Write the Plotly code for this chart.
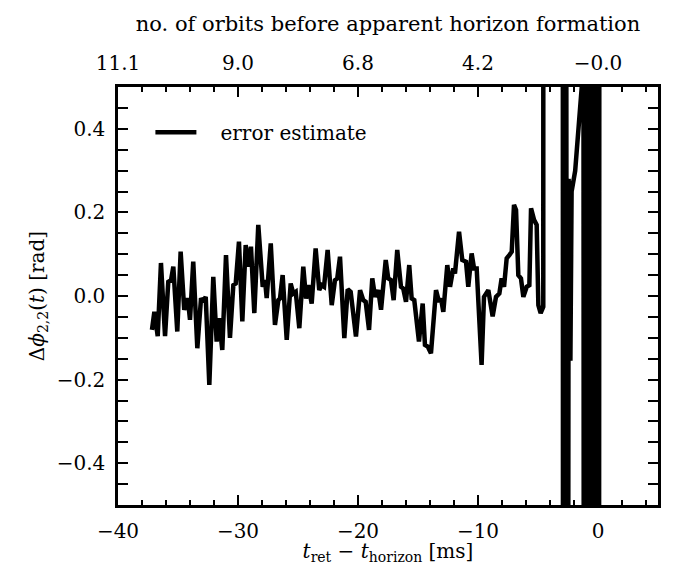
import plotly.graph_objects as go

# retarded time relative to horizon formation [ms]
t_ret = [
    -37.17, -36.97, -36.69, -36.42, -36.08, -35.81, -35.58, -35.39, -35.06, -34.78,
    -34.48, -34.19, -34.00, -33.73, -33.39, -33.08, -32.89, -32.69, -32.39, -32.06,
    -31.78, -31.58, -31.31, -31.00, -30.67, -30.39, -30.19, -29.92, -29.64, -29.36,
    -29.14, -28.92, -28.64, -28.31, -27.94, -27.75, -27.61, -27.27, -26.92, -26.64,
    -26.50, -26.28, -25.94, -25.61, -25.39, -25.19, -24.89, -24.56, -24.33, -24.14,
    -23.86, -23.53, -23.23, -23.03, -22.83, -22.53, -22.19, -21.92, -21.73, -21.50,
    -21.14, -20.86, -20.61, -20.17, -19.83, -19.56, -19.36, -19.08, -18.81, -18.58,
    -18.31, -18.08, -17.69, -17.48, -17.25, -17.03, -16.73, -16.42, -16.23, -16.00,
    -15.73, -15.53, -15.31, -15.11, -14.92, -14.61, -14.42, -14.19, -13.92, -13.50,
    -13.25, -13.08, -12.89, -12.56, -12.33, -12.06, -11.92, -11.58, -11.31, -11.00,
    -10.81, -10.53, -10.33, -10.11, -9.70, -9.50, -9.14, -8.78, -8.50, -8.22,
    -8.03, -7.83, -7.61, -7.39, -7.19, -7.00, -6.83, -6.64, -6.42, -6.22,
    -5.94, -5.72, -5.58, -5.33, -5.11, -4.97, -4.78, -4.56, -4.55, -2.95,
    -2.90, -2.70, -2.55, -2.45, -2.35, -2.30, -2.20, -1.90, -1.60, -1.30,
    -1.25, -1.15, -1.05, -0.95, -0.85, -0.75, -0.65, -0.55, -0.45, -0.35,
    -0.25, -0.15, -0.05, 0.05, 0.15,
]

# phase error estimate [rad]
dphi = [
    -0.081, -0.038, -0.096, 0.079, -0.096, 0.034, 0.038, 0.070, -0.085, 0.106,
    -0.033, -0.005, -0.057, 0.082, -0.125, -0.005, -0.014, -0.002, -0.213, 0.046,
    -0.109, -0.053, -0.129, 0.098, -0.100, 0.026, 0.030, 0.130, -0.061, 0.122,
    0.070, 0.118, -0.041, 0.170, 0.022, 0.038, -0.005, 0.126, -0.069, -0.010,
    -0.006, 0.050, -0.105, 0.030, 0.006, 0.010, -0.077, 0.070, -0.006, 0.026,
    -0.018, 0.114, 0.014, 0.026, 0.022, 0.110, -0.022, 0.038, 0.042, 0.094,
    -0.101, 0.016, 0.010, -0.097, 0.014, -0.010, -0.014, -0.081, 0.042, -0.002,
    0.014, -0.033, 0.086, 0.042, 0.038, -0.010, 0.110, 0.022, 0.018, -0.014,
    0.074, -0.006, -0.010, -0.069, -0.109, -0.018, -0.117, -0.121, -0.137, 0.014,
    -0.014, -0.006, -0.038, 0.074, 0.022, 0.066, 0.054, 0.154, 0.086, 0.082,
    0.022, 0.102, 0.066, 0.066, -0.165, -0.002, 0.014, -0.049, -0.002, 0.006,
    0.042, 0.022, 0.090, 0.098, 0.106, 0.218, 0.206, 0.050, 0.042, -0.002,
    0.022, 0.026, 0.210, 0.182, 0.170, -0.022, -0.041, -0.026, 3.0, 3.0,
    -3.0, 3.0, -3.0, 0.28, 0.22, -0.155, 0.25, 0.30, 0.40, 0.52,
    3.0, -3.0, 3.0, -3.0, 3.0, -3.0, 3.0, -3.0, 3.0, -3.0,
    3.0, -3.0, 3.0, -3.0, 3.0,
]

# top axis: orbits remaining at selected times
orbit_tick_times = [-40, -30, -20, -10, 0]
orbit_tick_labels = ["11.1", "9.0", "6.8", "4.2", "\u22120.0"]

FONT = "DejaVu Serif"

fig = go.Figure()
fig.add_trace(go.Scatter(
    x=t_ret, y=dphi, mode="lines",
    line=dict(color="black", width=4.5),
    name="\u00a0\u00a0\u00a0error estimate",
))
# invisible trace so the top axis is drawn
fig.add_trace(go.Scatter(
    x=orbit_tick_times, y=[0] * len(orbit_tick_times), xaxis="x2",
    mode="markers", marker=dict(opacity=0), showlegend=False, hoverinfo="skip",
))

axis_common = dict(
    showgrid=False, zeroline=False, showline=True, linecolor="black", linewidth=2.5,
    ticks="inside", ticklen=10, tickwidth=2, tickcolor="black",
    ticklabelstandoff=6,
    tickfont=dict(family=FONT, size=20, color="black"),
)
minor_common = dict(ticklen=5, tickwidth=2, tickcolor="black", ticks="inside")

# page body adds ~8px offset, so the figure is sized/margined to compensate
fig.update_layout(
    width=670, height=557,
    margin=dict(l=110, r=20, t=79, b=60),
    plot_bgcolor="white", paper_bgcolor="white",
    font=dict(family=FONT, size=20, color="black"),
    showlegend=True,
    legend=dict(x=0.06, y=0.892, xanchor="left", yanchor="middle", itemwidth=41,
                bgcolor="rgba(0,0,0,0)", font=dict(family=FONT, size=20)),
    xaxis=dict(
        range=[-40, 5], dtick=10, tickformat="d",
        minor=dict(dtick=2, **minor_common),
        title=dict(text="<i>t</i><sub>ret</sub> \u2212 <i>t</i><sub>horizon</sub> [ms]",
                   standoff=7, font=dict(family=FONT, size=20)),
        mirror=True, automargin=False,
        **axis_common,
    ),
    xaxis2=dict(
        overlaying="x", side="top", range=[-40, 5],
        tickvals=orbit_tick_times, ticktext=orbit_tick_labels,
        minor=dict(dtick=2, **minor_common),
        title=dict(text="no. of orbits before apparent horizon formation",
                   standoff=14, font=dict(family=FONT, size=21)),
        automargin=False,
        **axis_common,
    ),
    yaxis=dict(
        range=[-0.5, 0.5], dtick=0.2, tickformat=".1f",
        minor=dict(dtick=0.05, **minor_common),
        title=dict(text="\u0394<i>\u03d5</i><sub>2,2</sub>(<i>t</i>) [rad]",
                   standoff=7, font=dict(family=FONT, size=20)),
        mirror="allticks", automargin=True,
        **axis_common,
    ),
)

fig.write_html("out.html")
